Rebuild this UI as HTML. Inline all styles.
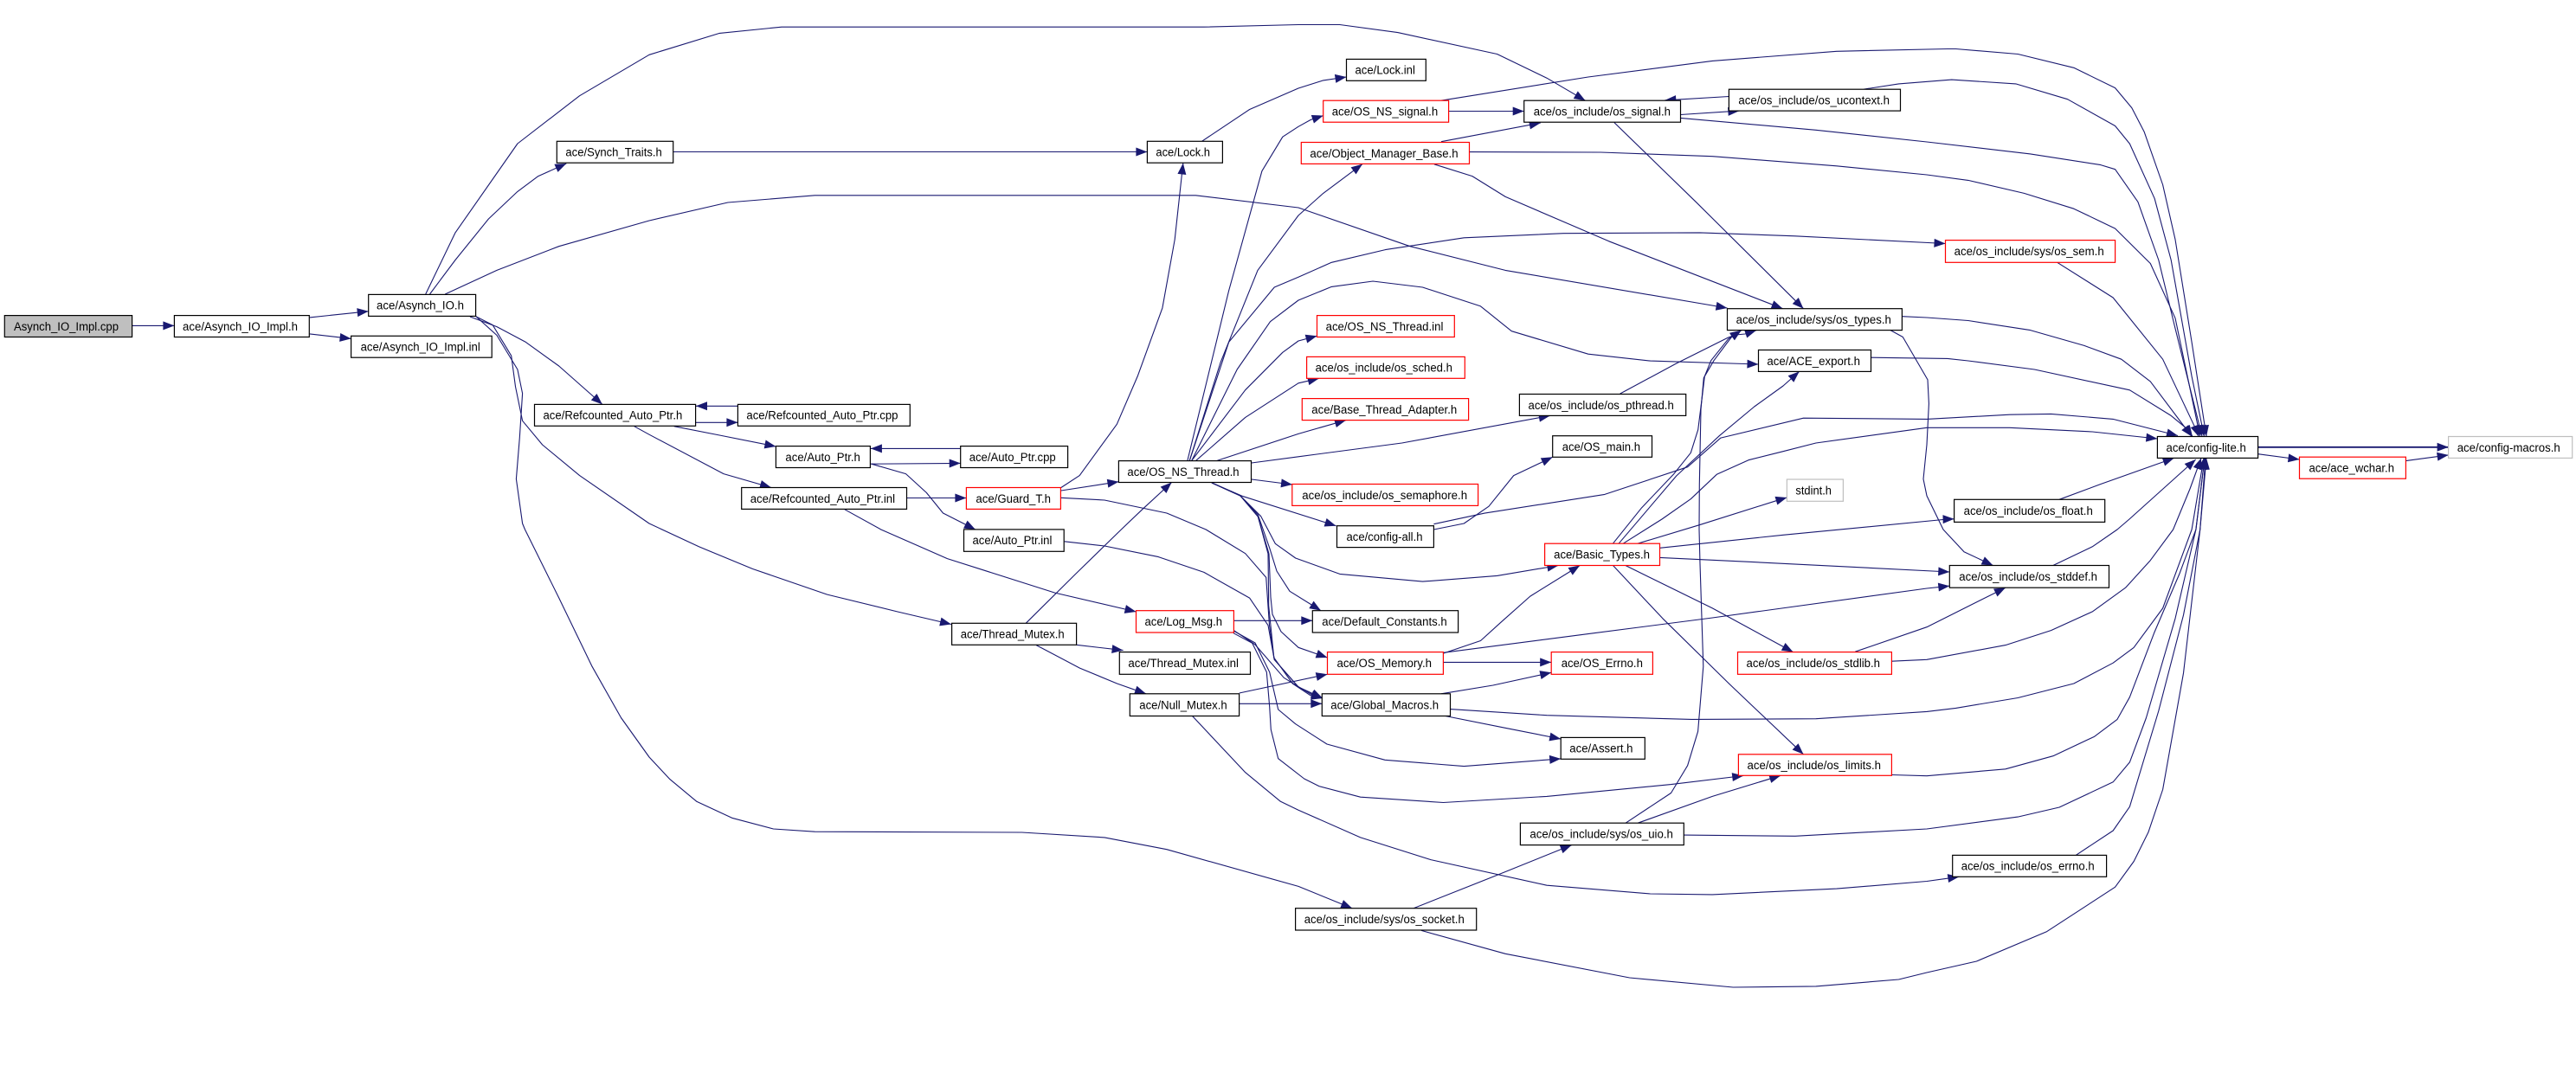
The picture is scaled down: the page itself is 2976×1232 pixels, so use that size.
<!DOCTYPE html>
<html><head><meta charset="utf-8"><title>Asynch_IO_Impl.cpp include graph</title>
<style>
html,body{margin:0;padding:0;background:#fff}
svg{display:block}
.e path{fill:none;stroke:#191970;stroke-width:1.1;stroke-linejoin:round;marker-end:url(#a)}
.n rect{fill:#fff;stroke:#000;stroke-width:1.2}
.n rect.r{stroke:#f00}
.n rect.g{stroke:#bfbfbf}
.n rect.f{fill:#bfbfbf}
.n text{font-family:"Liberation Sans",sans-serif;font-size:13.5px;fill:#000}
</style></head><body>
<svg xmlns="http://www.w3.org/2000/svg" width="2976" height="1232" viewBox="0 0 2976 1232">
<defs><marker id="a" markerUnits="userSpaceOnUse" markerWidth="14" markerHeight="11" refX="13" refY="5" orient="auto" overflow="visible"><path d="M0,0 L13,5 L0,10z" fill="#191970"/></marker></defs>
<rect width="2976" height="1232" fill="#fff"/>
<g class="e">
<path d="M152.6,376.4 201.4,376.4"/>
<path d="M357.8,366.9 425.7,359.8"/>
<path d="M357.8,385.9 405.6,391.4"/>
<path d="M491.7,340 526,268.9 597.9,166 669.6,110.7 750,63.3 831.3,38.4 903,31.2 1390.9,31.2 1500,28.5 1547.8,28.5 1614.8,37.6 1729.6,62.5 1787,90.2 1831.5,116.2"/>
<path d="M496.5,340 526,300.5 564.4,253 597.9,221.4 621.8,203.6 654.3,189"/>
<path d="M514.2,340 574,312.4 645.7,284.7 750,255 840.9,234 941.3,225.8 1381.4,225.8 1500,240 1629,284.7 1739,312.4 1995.5,356"/>
<path d="M542.9,366 574,377.6 607.4,395.4 645.7,423 695.9,467.4"/>
<path d="M549.1,365.4 569.2,375.6 590.7,411.2 595.5,446.8 603.6,486.3 626.6,514 669.6,549.6 750,605 807.4,631.8 869.6,657.5 955.7,687.1 1037,707 1099,721.5"/>
<path d="M549.1,365 574,387.5 597.9,427 603.6,454.7 600.3,506 596.4,553.6 603.6,605 606.5,612 645.7,691 684,770.2 717.5,829.5 750,875 773.9,900.6 805,926.4 845.6,945.3 893.5,958 941.3,961.2 1180.5,962 1276.1,967.9 1347.9,981.7 1500,1024.4 1562.2,1049.7"/>
<path d="M777.7,175.5 1325.4,175.5"/>
<path d="M1388.5,163.3 1443.6,126.5 1500,102 1528.7,92.9 1555.5,89"/>
<path d="M803.6,488.3 852.4,488.3"/>
<path d="M852.4,469.3 804,469.3"/>
<path d="M778.7,492.7 831.3,503 896.4,516"/>
<path d="M732.7,492.7 750,502.2 836,547.6 891,563.5"/>
<path d="M1109.7,518.4 1005.9,518.4"/>
<path d="M1005.9,536.2 1109.7,535.4"/>
<path d="M1006.8,536.2 1046.5,547.6 1070.3,569.4 1089.5,593 1126.9,612"/>
<path d="M1047.5,575.5 1116.4,575.5"/>
<path d="M975.7,588.7 1017.8,612 1094.4,645.6 1218.7,685.1 1312.5,707"/>
<path d="M1225.9,563.5 1247.2,549.6 1290.3,490.3 1314.2,434.9 1342.9,355.9 1357.2,276.8 1366.8,188.5"/>
<path d="M1225.9,567 1292.4,556.7"/>
<path d="M1225.9,575.3 1276,578 1347.9,593 1393.2,612 1438.7,639.7 1462.7,667.4 1466.5,722.7 1472.2,762.3 1500,794 1528,807"/>
<path d="M1371.8,532.6 1419.6,336 1457.9,197.7 1481.8,158.2 1500,146.3 1514.3,138.4 1528.7,133.6"/>
<path d="M1374.2,532.6 1410,419 1453,312.4 1500,249 1528.7,223.4 1574,189.6"/>
<path d="M1374.2,532.6 1419.6,395.4 1472.2,332 1500,320.3 1538.3,303.3 1600.4,288.6 1691.3,274.8 1806.1,269.7 1963.9,268.9 2073.9,272.8 2247.5,281.5"/>
<path d="M1376.6,532.6 1429.2,427 1467.5,371.7 1500,347 1538.3,331.4 1586.1,325 1643.5,332 1710.5,353.9 1746.3,382.7 1834.8,409.2 1906.6,417.1 2031.5,421"/>
<path d="M1376.6,532.6 1438.7,450.7 1481.8,407.3 1500,394 1521.5,388.3"/>
<path d="M1381.4,532.6 1438.7,482.4 1500,442.8 1523.9,437.3"/>
<path d="M1405.3,532.6 1500,501.4 1555,485.6"/>
<path d="M1445.9,535 1500,527.8 1619.6,512 1790.8,480.4"/>
<path d="M1446,554 1493,560"/>
<path d="M1400,558 1435,573.3 1543.5,607.7"/>
<path d="M1400,558 1433,573 1456.7,596.7 1473.3,628.3 1496.7,645 1547.8,663.4 1643.5,672.1 1729.6,665.4 1800.4,653.5"/>
<path d="M1400,558 1433,573 1453.3,595 1466.7,633.3 1475,660 1490,683.3 1526,705.7"/>
<path d="M1400,558 1433,573 1453.3,597 1466,640 1468,690 1470,710 1480,730 1500,748.3 1533.5,760"/>
<path d="M1400,558 1433,573 1453.3,597 1465,640 1465.7,700 1471.7,760 1493.3,790 1513.3,803.3 1528,807"/>
<path d="M1425.4,717.3 1516.3,717.3"/>
<path d="M1425,728.3 1450,745 1483.3,783.3 1513.3,801.7 1528,807"/>
<path d="M1425,729 1450,743 1466.7,776.7 1476.7,820 1496.7,836.7 1533,860 1600,878.3 1691.3,885.6 1803.2,876.9"/>
<path d="M1425,731.7 1446.7,743.3 1463.3,776.7 1466.7,816.7 1468.3,843.3 1476.7,876.7 1506.7,900 1523.9,908.6 1571.7,921.2 1667.4,927.5 1787,920.4 1930.5,906.6 2014.2,896.5"/>
<path d="M1377.5,827.5 1438.7,892.7 1479.4,926.3 1500,936.2 1571.7,967.9 1653,993.6 1787,1023.2 1906.6,1033 1978.3,1033.9 2121.8,1027.1 2226,1018.5 2263.3,1013.3"/>
<path d="M1431.7,801 1533.5,779.3"/>
<path d="M1431.7,813.3 1527.3,813.3"/>
<path d="M1185.2,720.3 1242.6,663.4 1295.3,612 1319.2,589.2 1353.6,557.5"/>
<path d="M1243.6,745.3 1297.6,751.6"/>
<path d="M1197.2,745.6 1247.4,772.1 1290.5,790 1324,801.8"/>
<path d="M1229.7,625.8 1276.1,631 1338.3,643.6 1390.9,661.4 1443.6,691.1 1465,722.7 1472.2,762.3 1500,794 1528,807"/>
<path d="M1667.4,755.1 1710.5,740.5 1734.4,718.8 1767.8,689.1 1825.2,653.5"/>
<path d="M1667.4,754.3 1834.8,732.6 1978.3,714 2226,680 2252.3,677.2"/>
<path d="M1667.4,765.4 1792.2,765.4"/>
<path d="M1665,801.8 1724.8,792 1792.2,777.3"/>
<path d="M1669.8,827.5 1739,841.3 1803.2,854"/>
<path d="M1675.5,819.6 1787,826.7 1954.4,831.4 2097.9,830.7 2226,822.4 2259.5,818.4 2331.2,806.5 2395.8,790 2441.2,766.2 2465.1,748.4 2498.6,703 2532.1,612 2546,529.4"/>
<path d="M2371.9,653.5 2417.3,631.8 2446,612 2460,600 2536.7,531"/>
<path d="M2185.4,764.2 2226,762.3 2316.9,745.6 2369.5,728.6 2417.3,706.9 2455.6,679.2 2484.3,647.6 2510.6,612 2530,565 2543,529.4"/>
<path d="M2185.4,895.5 2226,896.7 2316.9,888.8 2371.9,873.7 2419.7,851.2 2446,831.4 2460.4,805.7 2489,730.6 2517.8,663.4 2536.9,612 2547,529.4"/>
<path d="M1945.3,965.1 2074,966.3 2226,958 2331.2,944.1 2379.1,933 2441.2,903.8 2460.4,880.9 2479.5,829.5 2513,714.8 2536.9,612 2547,529.4"/>
<path d="M2398.2,988.4 2441.2,960 2460.4,932.3 2493.8,821.6 2522.5,710.9 2541.7,612 2548,529.4"/>
<path d="M1642,1075.4 1739.2,1102.3 1882.6,1130 2002.2,1141 2097.9,1139.9 2193.5,1132 2226,1124 2283.4,1111 2364.7,1076.6 2443.6,1025.2 2465.2,995.5 2481.9,961.9 2498.6,912.5 2522.5,778 2541.7,612 2549,529.4"/>
<path d="M1665,116.2 1834.8,89 1978.3,70.4 2121.8,59.3 2250,56.5 2259.5,56.5 2331.2,62.5 2395.8,78.3 2443.6,101.6 2462.8,124.6 2477.1,152.2 2498.6,213.5 2513,276.8 2532.1,395.4 2549,504.5"/>
<path d="M2152.9,103.2 2193.5,96.9 2254.7,92.1 2328.8,96.9 2388.6,114.7 2443.6,145.5 2460.4,166.1 2489.1,229.3 2508.2,300.5 2532.1,435 2546.5,504.5"/>
<path d="M1941.5,136.4 2097.9,150.3 2226,164 2345.6,177.9 2426.9,190.6 2443.6,195.7 2469.9,233.3 2493.8,300.5 2513,379.6 2544,504.5"/>
<path d="M1697.5,175.6 1849.2,176 1978.3,180.7 2121.8,191.8 2226,202 2273.8,208.4 2338.4,223.4 2395.8,241.2 2443.6,264.1 2484.3,304.5 2513,367.7 2541.7,504.5"/>
<path d="M2376.7,303.3 2441.2,344 2498.6,415.2 2536.9,496.2 2540,504.5"/>
<path d="M2197.4,365.7 2226,367 2273.8,370.5 2345.6,381.6 2407.8,399.4 2450.8,415.2 2484.3,440.9 2532.1,504.5"/>
<path d="M2161.5,413.2 2250,414.4 2273.8,417 2350.4,427 2460.4,450.8 2508.2,480.4 2527.3,496.2 2533,504.5"/>
<path d="M1656.4,605.7 1715.2,593.1 1853.9,571.4 1949.6,539.7 1987.9,506.1 2083.5,483.2 2226,484.4 2321.7,479.2 2369.5,478.4 2441.2,484.4 2516,503.5"/>
<path d="M1875,628.3 1920,600 1953.3,576.7 1983.3,548.3 2020,531.7 2060,521.7 2097.9,512 2226,494.3 2321.7,494.3 2417.3,499 2492.4,507"/>
<path d="M2379,577.3 2426.9,559.5 2511.7,529.4"/>
<path d="M1863.3,628.3 1896.7,586.7 1933.3,548.3 1953.3,523.3 1961.7,496.7 1966.7,456.7 1969.3,435 1976.7,416.7 1996.7,391.7 2011.7,381.7"/>
<path d="M1877.9,951.3 1930.5,916.5 1949.6,884.8 1961.6,845.3 1967.8,770.2 1964,651.5 1963,612 1963.3,560 1965,473.3 1968.3,436.7 1980,416.7 2000,390 2011.7,381.7"/>
<path d="M1871.7,455 1936.7,420 1996.7,390 2005,387 2016,386 2029,381.7"/>
<path d="M1870,628.3 1936.7,550 1986.7,503.3 2026.7,470 2060,446 2078.7,429.4"/>
<path d="M1891.7,628.3 1963.3,606.7 2053.3,578.3 2064.4,575"/>
<path d="M1917.5,633.3 2060,618.3 2250,600 2257.6,599.8"/>
<path d="M1917.5,644.4 2026,649.6 2252.3,661"/>
<path d="M1877.9,653.5 1978.3,702.9 2071.6,753.6"/>
<path d="M1863.5,653.5 1920.9,714.8 1997.4,790 2083.5,871.8"/>
<path d="M2184,381.6 2198.3,389.5 2227,438.9 2228.4,466.5 2226,514 2222,553.6 2226,573 2245,612 2269,637.7 2302.5,653.5"/>
<path d="M2143.3,753.2 2226,724.7 2316.9,679.2"/>
<path d="M1997.4,111.5 1923.3,115.9"/>
<path d="M1941.5,132.5 2009.4,128.1"/>
<path d="M1673.6,128.5 1760.7,128.5"/>
<path d="M1665,163.7 1779.8,142"/>
<path d="M1864.9,141.6 1959.2,233.3 2083.5,356.7"/>
<path d="M1656.9,189.8 1700.9,203.6 1739.2,227.4 1858.7,278.8 2059.6,356.7"/>
<path d="M1656.4,612 1691.3,605 1720,585.2 1748.7,549.6 1793.7,528.3"/>
<path d="M1633,1049.7 1729.6,1011.4 1815.7,976.6"/>
<path d="M1892.2,951.2 1978.3,920.4 2057.2,896.3"/>
<path d="M2608.6,516.8 2828.6,516.8" style="stroke-width:1.8"/>
<path d="M2608.6,524.7 2656.5,531"/>
<path d="M2779.4,532.6 2828.6,525.9"/>
</g>
<g class="n">
<rect class="f" x="5.3" y="364.6" width="147.3" height="24.9"/><text x="16" y="381.9" textLength="121" lengthAdjust="spacingAndGlyphs">Asynch_IO_Impl.cpp</text>
<rect x="201.4" y="364.6" width="155.9" height="24.9"/><text x="211" y="381.9" textLength="133" lengthAdjust="spacingAndGlyphs">ace/Asynch_IO_Impl.h</text>
<rect x="425.7" y="340.4" width="123.9" height="25"/><text x="435" y="357.7" textLength="101" lengthAdjust="spacingAndGlyphs">ace/Asynch_IO.h</text>
<rect x="405.6" y="388.3" width="162.6" height="24.9"/><text x="416.6" y="405.6" textLength="138.2" lengthAdjust="spacingAndGlyphs">ace/Asynch_IO_Impl.inl</text>
<rect x="643.3" y="163.3" width="134.4" height="24.9"/><text x="653.4" y="180.6" textLength="111.4" lengthAdjust="spacingAndGlyphs">ace/Synch_Traits.h</text>
<rect x="617.5" y="467.4" width="186.1" height="24.9"/><text x="627.5" y="484.7" textLength="160.8" lengthAdjust="spacingAndGlyphs">ace/Refcounted_Auto_Ptr.h</text>
<rect x="1325.4" y="163.3" width="87" height="24.9"/><text x="1335.4" y="180.6" textLength="62.6" lengthAdjust="spacingAndGlyphs">ace/Lock.h</text>
<rect x="852.4" y="467.4" width="198.9" height="24.9"/><text x="862.4" y="484.7" textLength="175.1" lengthAdjust="spacingAndGlyphs">ace/Refcounted_Auto_Ptr.cpp</text>
<rect x="896.4" y="515.6" width="109" height="24.9"/><text x="907.4" y="532.9" textLength="86.5" lengthAdjust="spacingAndGlyphs">ace/Auto_Ptr.h</text>
<rect x="1109.7" y="515.6" width="123.9" height="24.9"/><text x="1119.7" y="532.9" textLength="100" lengthAdjust="spacingAndGlyphs">ace/Auto_Ptr.cpp</text>
<rect x="856.7" y="563.5" width="190.8" height="24.9"/><text x="866.7" y="580.8" textLength="167.4" lengthAdjust="spacingAndGlyphs">ace/Refcounted_Auto_Ptr.inl</text>
<rect class="r" x="1116.4" y="563.5" width="109" height="24.9"/><text x="1127.4" y="580.8" textLength="86.6" lengthAdjust="spacingAndGlyphs">ace/Guard_T.h</text>
<rect x="1292.4" y="532.6" width="153.1" height="24.9"/><text x="1302.4" y="549.9" textLength="129.2" lengthAdjust="spacingAndGlyphs">ace/OS_NS_Thread.h</text>
<rect x="1113.5" y="611.9" width="115.7" height="25.4"/><text x="1123.5" y="629.2" textLength="91.9" lengthAdjust="spacingAndGlyphs">ace/Auto_Ptr.inl</text>
<rect x="1555.5" y="68.4" width="91.8" height="24.9"/><text x="1565.5" y="85.7" textLength="69.4" lengthAdjust="spacingAndGlyphs">ace/Lock.inl</text>
<rect class="r" x="1528.7" y="116.2" width="144.9" height="25"/><text x="1538.7" y="133.5" textLength="122.5" lengthAdjust="spacingAndGlyphs">ace/OS_NS_signal.h</text>
<rect x="1760.7" y="116.2" width="180.8" height="25"/><text x="1771.7" y="133.5" textLength="158.3" lengthAdjust="spacingAndGlyphs">ace/os_include/os_signal.h</text>
<rect x="1997.4" y="103.2" width="198.1" height="24.9"/><text x="2008.4" y="120.5" textLength="174.6" lengthAdjust="spacingAndGlyphs">ace/os_include/os_ucontext.h</text>
<rect class="r" x="1503.3" y="164.5" width="194.2" height="24.9"/><text x="1513.4" y="181.8" textLength="171.2" lengthAdjust="spacingAndGlyphs">ace/Object_Manager_Base.h</text>
<rect x="1995.5" y="356.7" width="201.9" height="24.9"/><text x="2005.6" y="374" textLength="179.3" lengthAdjust="spacingAndGlyphs">ace/os_include/sys/os_types.h</text>
<rect x="2031.5" y="404.5" width="130" height="24.9"/><text x="2041.4" y="421.8" textLength="107.6" lengthAdjust="spacingAndGlyphs">ace/ACE_export.h</text>
<rect class="r" x="1521.5" y="364.6" width="158.8" height="24.9"/><text x="1531.6" y="381.9" textLength="135.8" lengthAdjust="spacingAndGlyphs">ace/OS_NS_Thread.inl</text>
<rect class="r" x="1509.6" y="412.4" width="182.7" height="24.9"/><text x="1519.6" y="429.7" textLength="158.3" lengthAdjust="spacingAndGlyphs">ace/os_include/os_sched.h</text>
<rect class="r" x="1504.3" y="460.6" width="192.3" height="25"/><text x="1515.3" y="477.9" textLength="167.9" lengthAdjust="spacingAndGlyphs">ace/Base_Thread_Adapter.h</text>
<rect x="1755.4" y="455.5" width="192.3" height="24.9"/><text x="1765.5" y="472.8" textLength="168.3" lengthAdjust="spacingAndGlyphs">ace/os_include/os_pthread.h</text>
<rect x="1793.7" y="503.7" width="114.8" height="24.6"/><text x="1804.7" y="521" textLength="90.3" lengthAdjust="spacingAndGlyphs">ace/OS_main.h</text>
<rect class="g" x="2064.4" y="554" width="65" height="25.3"/><text x="2074.4" y="571.3" textLength="41.6" lengthAdjust="spacingAndGlyphs">stdint.h</text>
<rect class="r" x="1492.8" y="559.5" width="214.8" height="24.9"/><text x="1504.3" y="576.8" textLength="190.8" lengthAdjust="spacingAndGlyphs">ace/os_include/os_semaphore.h</text>
<rect x="1544.5" y="607.7" width="111.9" height="24.9"/><text x="1555.5" y="625" textLength="88" lengthAdjust="spacingAndGlyphs">ace/config-all.h</text>
<rect class="r" x="2247.5" y="277.6" width="196.1" height="25.7"/><text x="2257.6" y="295.2" textLength="173.1" lengthAdjust="spacingAndGlyphs">ace/os_include/sys/os_sem.h</text>
<rect x="2492.4" y="504.5" width="116.2" height="24.9"/><text x="2502.5" y="521.8" textLength="92.3" lengthAdjust="spacingAndGlyphs">ace/config-lite.h</text>
<rect class="g" x="2828.6" y="504.5" width="143.1" height="24.9"/><text x="2838.7" y="521.8" textLength="119.1" lengthAdjust="spacingAndGlyphs">ace/config-macros.h</text>
<rect class="r" x="2656.5" y="528.2" width="122.9" height="25"/><text x="2667.5" y="545.5" textLength="98.5" lengthAdjust="spacingAndGlyphs">ace/ace_wchar.h</text>
<rect x="2257.6" y="577.3" width="174.1" height="26.1"/><text x="2268.6" y="595.2" textLength="149.2" lengthAdjust="spacingAndGlyphs">ace/os_include/os_float.h</text>
<rect class="r" x="1312.5" y="705.7" width="112.9" height="25.3"/><text x="1322.5" y="723" textLength="89.5" lengthAdjust="spacingAndGlyphs">ace/Log_Msg.h</text>
<rect x="1099.6" y="720.3" width="144" height="25"/><text x="1109.7" y="737.6" textLength="120" lengthAdjust="spacingAndGlyphs">ace/Thread_Mutex.h</text>
<rect x="1293.3" y="753.6" width="151.2" height="25.7"/><text x="1303.4" y="771.2" textLength="127.6" lengthAdjust="spacingAndGlyphs">ace/Thread_Mutex.inl</text>
<rect x="1305.3" y="801.8" width="126.3" height="25.7"/><text x="1316.3" y="819.4" textLength="101.4" lengthAdjust="spacingAndGlyphs">ace/Null_Mutex.h</text>
<rect class="r" x="1784.6" y="628.2" width="132.9" height="25.3"/><text x="1795.1" y="645.5" textLength="110.9" lengthAdjust="spacingAndGlyphs">ace/Basic_Types.h</text>
<rect x="1516.3" y="705.7" width="168.3" height="25.3"/><text x="1527.3" y="723" textLength="144.4" lengthAdjust="spacingAndGlyphs">ace/Default_Constants.h</text>
<rect class="r" x="1533.5" y="753.6" width="133.9" height="25.7"/><text x="1544.5" y="771.2" textLength="109.5" lengthAdjust="spacingAndGlyphs">ace/OS_Memory.h</text>
<rect class="r" x="1792.2" y="753.6" width="117.2" height="25.7"/><text x="1803.7" y="771.2" textLength="94.2" lengthAdjust="spacingAndGlyphs">ace/OS_Errno.h</text>
<rect x="1527.3" y="801.8" width="148.2" height="25.7"/><text x="1537.3" y="819.4" textLength="124.8" lengthAdjust="spacingAndGlyphs">ace/Global_Macros.h</text>
<rect x="1803.2" y="852.4" width="97.1" height="24.9"/><text x="1813.3" y="869.7" textLength="73.2" lengthAdjust="spacingAndGlyphs">ace/Assert.h</text>
<rect class="r" x="2007.5" y="753.6" width="177.9" height="25.7"/><text x="2017.5" y="771.2" textLength="154.5" lengthAdjust="spacingAndGlyphs">ace/os_include/os_stdlib.h</text>
<rect class="r" x="2008.4" y="871.8" width="177" height="24.5"/><text x="2018.5" y="889" textLength="154.5" lengthAdjust="spacingAndGlyphs">ace/os_include/os_limits.h</text>
<rect x="1756.4" y="951.2" width="188.9" height="25.4"/><text x="1767.4" y="968.5" textLength="165.5" lengthAdjust="spacingAndGlyphs">ace/os_include/sys/os_uio.h</text>
<rect x="1496.6" y="1049.7" width="209.1" height="25.3"/><text x="1506.7" y="1067" textLength="185.1" lengthAdjust="spacingAndGlyphs">ace/os_include/sys/os_socket.h</text>
<rect x="2252.3" y="653.5" width="184.2" height="25.7"/><text x="2263.3" y="671" textLength="159.7" lengthAdjust="spacingAndGlyphs">ace/os_include/os_stddef.h</text>
<rect x="2255.7" y="988.4" width="177.9" height="24.9"/><text x="2265.7" y="1005.7" textLength="154" lengthAdjust="spacingAndGlyphs">ace/os_include/os_errno.h</text>
</g>
</svg>
</body></html>
